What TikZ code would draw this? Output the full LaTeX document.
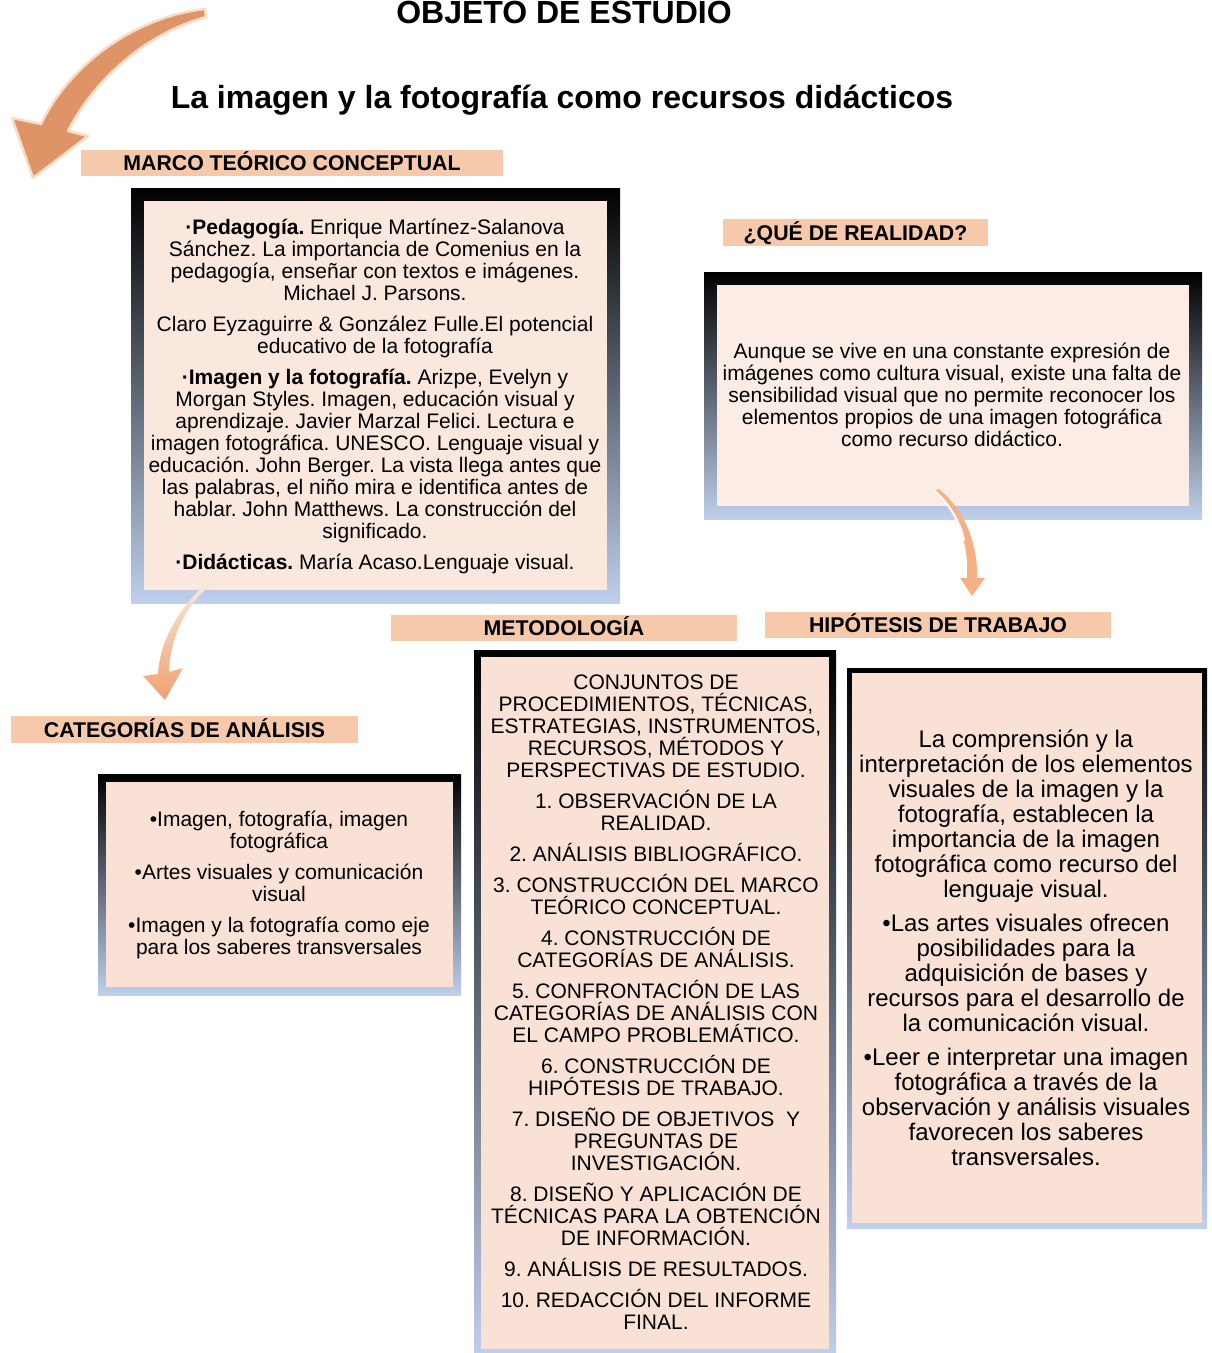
\documentclass[tikz,border=0pt]{standalone}
\usepackage{fontspec}
\setmainfont{Liberation Sans}
\frenchspacing
\definecolor{lblc}{HTML}{F6C9AA}
\definecolor{frameblue}{HTML}{BFD0EC}
\definecolor{pchA}{HTML}{FAE7DD}
\definecolor{pchB}{HTML}{FBEDE5}
\definecolor{pchC}{HTML}{F9E2D5}
\definecolor{arrA}{HTML}{DF9467}
\definecolor{arrAo}{HTML}{F8DCC4}
\definecolor{arrB}{HTML}{EFA170}
\definecolor{arrBt}{HTML}{F7E9DE}
\definecolor{arrC}{HTML}{F4B183}
\tikzset{
  frameshade/.style={shade, top color=black, bottom color=frameblue, inner sep=0, outer sep=0},
  lblbar/.style={fill=lblc, inner sep=0, outer sep=0, font=\fontsize{21.3}{22}\selectfont\bfseries, text height=15pt, text depth=0pt},
  bodytxt/.style={align=center, inner sep=0, font=\fontsize{21}{22}\selectfont},
  hiptxt/.style={align=center, inner sep=0, font=\fontsize{24}{25}\selectfont},
}
\newcommand\mypanel[7]{%
  \node[frameshade, minimum width={#4-#2}, minimum height={#5-#3}] (#1F) at ({(#2+#4)/2},{(#3+#5)/2}) {};
  \node[fill=#7, inner sep=0, outer sep=0, minimum width={#4-#2-2*#6}, minimum height={#5-#3-2*#6}] (#1I) at (#1F.center) {};
}
\newcommand\mylabel[6]{%
  \node[lblbar, minimum width={#4-#2}, minimum height={#5-#3}] (#1) at ({(#2+#4)/2},{(#3+#5)/2}) {#6};
}
\begin{document}
\begin{tikzpicture}[x=1pt,y=-1pt]
\useasboundingbox (0,0) rectangle (1212,1353);

% titles
\node[anchor=base, inner sep=0, font=\fontsize{32}{34}\selectfont\bfseries] (title) at (564,23) {OBJETO DE ESTUDIO};
\node[anchor=base, inner sep=0, font=\fontsize{32}{34}\selectfont\bfseries] (subtitle) at (562,108) {La imagen y la fotografía como recursos didácticos};

% labels
\mylabel{lblMarco}{81}{150}{503}{176}{MARCO TEÓRICO CONCEPTUAL}
\mylabel{lblQue}{723}{219}{988}{246}{¿QUÉ DE REALIDAD?}
\mylabel{lblMet}{391}{615}{737}{641}{METODOLOGÍA}
\mylabel{lblHip}{765}{612}{1111}{638}{HIPÓTESIS DE TRABAJO}
\mylabel{lblCat}{11}{716}{358}{743}{CATEGORÍAS DE ANÁLISIS}

% panels
\mypanel{marco}{131}{188}{620}{603}{13}{pchA}
\mypanel{que}{704}{272}{1202}{519}{13}{pchB}
\mypanel{cat}{98}{774}{461}{995}{8}{pchC}
\mypanel{met}{474}{650}{836}{1356}{7}{pchC}
\mypanel{hip}{847}{668}{1207}{1228}{5}{pchC}

% texts
\node[bodytxt] (marcoT) at (375,396) {%
\textbf{·Pedagogía.} Enrique Martínez-Salanova\\
Sánchez. La importancia de Comenius en la\\
pedagogía, enseñar con textos e imágenes.\\
Michael J. Parsons.\\[9pt]
Claro Eyzaguirre \& González Fulle.El potencial\\
educativo de la fotografía\\[9pt]
\textbf{·Imagen y la fotografía.} Arizpe, Evelyn y\\
Morgan Styles. Imagen, educación visual y\\
aprendizaje. Javier Marzal Felici. Lectura e\\
imagen fotográfica. UNESCO. Lenguaje visual y\\
educación. John Berger. La vista llega antes que\\
las palabras, el niño mira e identifica antes de\\
hablar. John Matthews. La construcción del\\
significado.\\[9pt]
\textbf{·Didácticas.} María Acaso.Lenguaje visual.};

\node[bodytxt] (queT) at (952,395) {%
Aunque se vive en una constante expresión de\\
imágenes como cultura visual, existe una falta de\\
sensibilidad visual que no permite reconocer los\\
elementos propios de una imagen fotográfica\\
como recurso didáctico.};

\node[bodytxt] (catT) at (279,885) {%
•Imagen, fotografía, imagen\\
fotográfica\\[9pt]
•Artes visuales y comunicación\\
visual\\[9pt]
•Imagen y la fotografía como eje\\
para los saberes transversales};

\node[bodytxt] (metT) at (656,1002) {%
CONJUNTOS DE\\
PROCEDIMIENTOS, TÉCNICAS,\\
ESTRATEGIAS, INSTRUMENTOS,\\
RECURSOS, MÉTODOS Y\\
PERSPECTIVAS DE ESTUDIO.\\[9pt]
1. OBSERVACIÓN DE LA\\
REALIDAD.\\[9pt]
2. ANÁLISIS BIBLIOGRÁFICO.\\[9pt]
3. CONSTRUCCIÓN DEL MARCO\\
TEÓRICO CONCEPTUAL.\\[9pt]
4. CONSTRUCCIÓN DE\\
CATEGORÍAS DE ANÁLISIS.\\[9pt]
5. CONFRONTACIÓN DE LAS\\
CATEGORÍAS DE ANÁLISIS CON\\
EL CAMPO PROBLEMÁTICO.\\[9pt]
6. CONSTRUCCIÓN DE\\
HIPÓTESIS DE TRABAJO.\\[9pt]
7. DISEÑO DE OBJETIVOS~~Y\\
PREGUNTAS DE\\
INVESTIGACIÓN.\\[9pt]
8. DISEÑO Y APLICACIÓN DE\\
TÉCNICAS PARA LA OBTENCIÓN\\
DE INFORMACIÓN.\\[9pt]
9. ANÁLISIS DE RESULTADOS.\\[9pt]
10. REDACCIÓN DEL INFORME\\
FINAL.};

\node[hiptxt] (hipT) at (1026,948) {%
La comprensión y la\\
interpretación de los elementos\\
visuales de la imagen y la\\
fotografía, establecen la\\
importancia de la imagen\\
fotográfica como recurso del\\
lenguaje visual.\\[9pt]
•Las artes visuales ofrecen\\
posibilidades para la\\
adquisición de bases y\\
recursos para el desarrollo de\\
la comunicación visual.\\[9pt]
•Leer e interpretar una imagen\\
fotográfica a través de la\\
observación y análisis visuales\\
favorecen los saberes\\
transversales.};

% big arrow top-left toward MARCO label
\coordinate (a1tail) at (205,9);
\coordinate (a1tip) at (33,178);
\filldraw[fill=arrA, draw=arrAo, line width=2.5pt, line join=round]
  (a1tail) .. controls (140,16) and (72,60) .. (41,124) -- (12,118) -- (a1tip) -- (88,136) -- (68,131)
  .. controls (96,76) and (150,32) .. (206,17) -- cycle;

% arrow from MARCO panel to CATEGORIAS label
\coordinate (a2tail) at (207,582);
\coordinate (a2tip) at (165,700);
\shade[top color=arrBt, bottom color=arrB]
  (a2tail) .. controls (178,610) and (160,640) .. (158,674) -- (143,676) -- (a2tip) -- (183,668) -- (169,672)
  .. controls (170,640) and (184,606) .. (211,585) -- cycle;

% arrow from QUE panel to HIPOTESIS label
\coordinate (a3tail) at (935,490);
\coordinate (a3tip) at (972,596);
\fill[arrC]
  (a3tail) .. controls (958,512) and (969,545) .. (967,578) -- (960,578) -- (a3tip) -- (985,578) -- (977,578)
  .. controls (978,540) and (962,508) .. (939,489) -- cycle;
\draw[white, line width=2pt, line cap=round] (935,491) .. controls (950,505) and (960,522) .. (964,540);

\end{tikzpicture}
\end{document}
